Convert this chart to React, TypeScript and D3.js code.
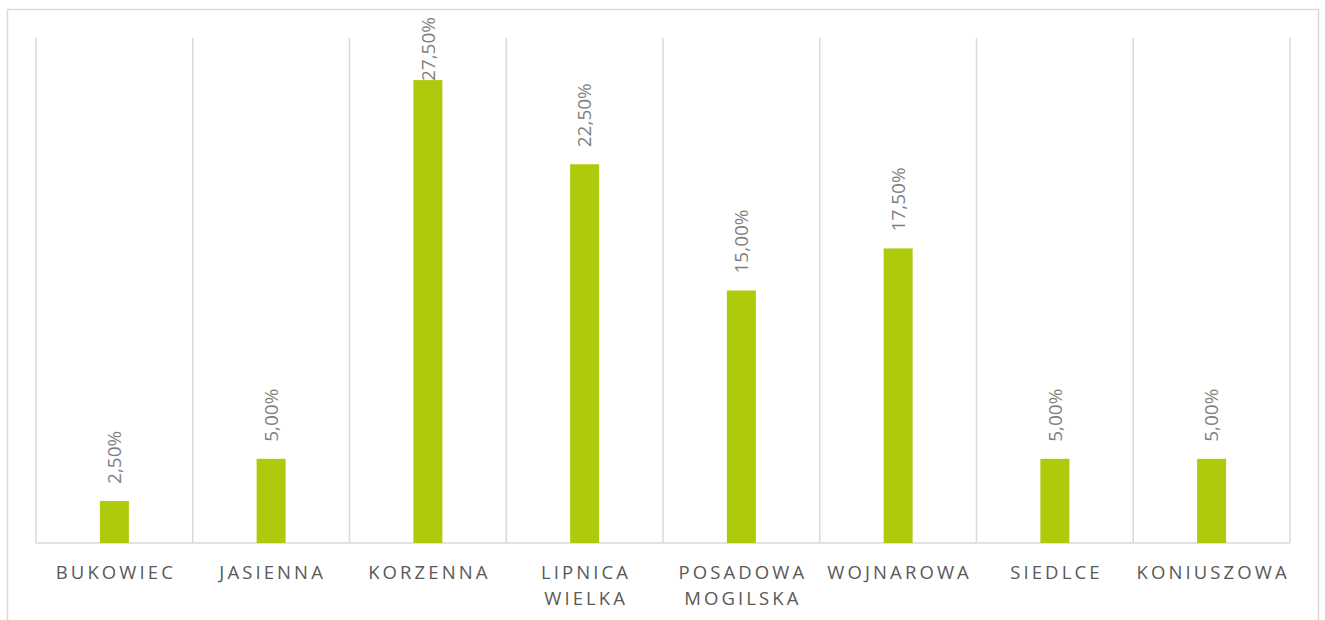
import React, { useEffect, useRef } from 'react';
import * as d3 from 'd3';

// category labels (line breaks where the chart wraps them)
const categories = ['BUKOWIEC', 'JASIENNA', 'KORZENNA', 'LIPNICA WIELKA', 'POSADOWA MOGILSKA', 'WOJNAROWA', 'SIEDLCE', 'KONIUSZOWA'];
const labelLines = [['BUKOWIEC'], ['JASIENNA'], ['KORZENNA'], ['LIPNICA', 'WIELKA'], ['POSADOWA', 'MOGILSKA'], ['WOJNAROWA'], ['SIEDLCE'], ['KONIUSZOWA']];
const values = [0.025, 0.05, 0.275, 0.225, 0.15, 0.175, 0.05, 0.05];

const W = 1325, H = 620;
const plot = { left: 36, right: 1290, top: 38, bottom: 543 };
const barColor = '#afca0b';
const gridColor = '#d9d9d9';

const fmt = (v: number) => (v * 100).toFixed(2).replace('.', ',') + '%';

const App = () => {
  const svgRef = useRef<SVGSVGElement>(null);

  useEffect(() => {
    const svg = d3.select(svgRef.current);
    svg.selectAll('*').remove();

    const x = d3.scaleBand().domain(categories).range([plot.left, plot.right]).padding(0);
    const y = d3.scaleLinear().domain([0, 0.3]).range([plot.bottom, plot.top]);
    const barW = 29;

    // outer frame
    svg.append('rect')
      .attr('x', 7.5).attr('y', 9.5)
      .attr('width', 1311).attr('height', 640)
      .attr('fill', 'white').attr('stroke', gridColor).attr('stroke-width', 1.5);

    // vertical category separators
    const bounds = categories.map(c => x(c)!).concat([plot.right]);
    svg.append('g').selectAll('line').data(bounds).join('line')
      .attr('x1', d => d).attr('x2', d => d)
      .attr('y1', plot.top).attr('y2', plot.bottom)
      .attr('stroke', gridColor).attr('stroke-width', 1.5);

    // baseline
    svg.append('line')
      .attr('x1', plot.left).attr('x2', plot.right)
      .attr('y1', plot.bottom).attr('y2', plot.bottom)
      .attr('stroke', gridColor).attr('stroke-width', 1.5);

    // bars
    svg.append('g').selectAll('rect').data(values).join('rect')
      .attr('x', (d, i) => x(categories[i])! + x.bandwidth() / 2 - barW / 2)
      .attr('y', d => y(d))
      .attr('width', barW)
      .attr('height', d => plot.bottom - y(d))
      .attr('fill', barColor);

    // rotated value labels
    const labels = svg.append('g').selectAll('text').data(values).join('text')
      .attr('font-family', '"Open Sans", sans-serif')
      .attr('font-size', 19)
      .attr('fill', '#7f7f7f')
      .attr('dy', '0.35em')
      .text(d => fmt(d));

    labels.each(function (d, i) {
      const t = d3.select(this);
      const len = (this as SVGTextElement).getComputedTextLength();
      const cx = x(categories[i])! + x.bandwidth() / 2;
      let start = y(d) - 17;
      if (start - len < 17) start = 17 + len; // keep inside the chart
      t.attr('transform', `translate(${cx},${start}) rotate(-90)`);
    });

    // category labels
    const cat = svg.append('g').selectAll('text').data(labelLines).join('text')
      .attr('font-family', '"Open Sans", sans-serif')
      .attr('font-size', 18.5)
      .attr('letter-spacing', 3.1)
      .attr('fill', '#595959')
      .attr('text-anchor', 'middle')
      .attr('y', 579);

    cat.each(function (lines, i) {
      const cx = x(categories[i])! + x.bandwidth() / 2 + 1.5;
      d3.select(this).selectAll('tspan').data(lines).join('tspan')
        .attr('x', cx)
        .attr('dy', (_, j) => (j === 0 ? 0 : 26))
        .text(l => l);
    });
  }, []);

  return (
    <svg ref={svgRef} width={W} height={H}
      style={{ position: 'absolute', left: 0, top: 0, background: 'white' }} />
  );
};

export default App;
